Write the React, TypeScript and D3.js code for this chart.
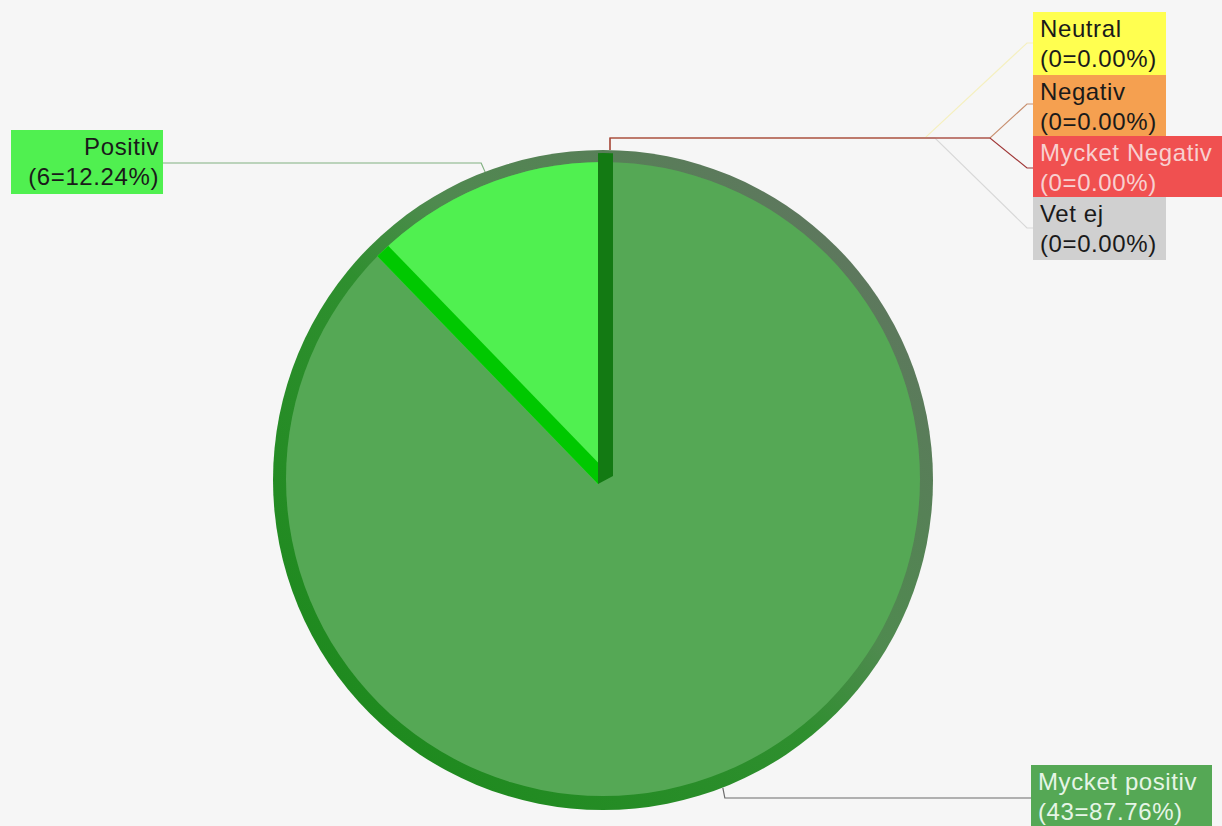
import React from "react";
import * as d3 from "d3";

const categories = ["Mycket positiv", "Positiv", "Neutral", "Negativ", "Mycket Negativ", "Vet ej"];
const values = [43, 6, 0, 0, 0, 0];
const sliceColors = ["#55a855", "#50f050", "#ffff50", "#f5a050", "#f05050", "#d0d0d0"];
const textColors = ["#e6f5e6", "#1a1a1a", "#1a1a1a", "#1a1a1a", "#f8d0d0", "#1a1a1a"];
const lineColors = ["#6a6a6a", "#80b080", "#f5f0c0", "#c89070", "#a03838", "#d8d8d8"];

const W = 1222;
const H = 826;

// label box layout (position only)
const boxes: Record<string, { x: number; y: number; w: number; h: number; align: "start" | "end"; elbow: [number, number] | null }> = {
  "Mycket positiv": { x: 1031, y: 765, w: 181, h: 64, align: "start", elbow: null },
  Positiv: { x: 11, y: 130, w: 152, h: 64, align: "end", elbow: null },
  Neutral: { x: 1033, y: 12, w: 133, h: 63, align: "start", elbow: [925, 43] },
  Negativ: { x: 1033, y: 75, w: 133, h: 61, align: "start", elbow: [990, 104] },
  "Mycket Negativ": { x: 1033, y: 136, w: 189, h: 61, align: "start", elbow: [990, 168] },
  "Vet ej": { x: 1033, y: 197, w: 133, h: 63, align: "start", elbow: [935, 228] },
};

export default function App() {
  const cx = 603;
  const cy = 480;
  const rOuter = 330;
  const rFace = 317;
  const V: [number, number] = [598, 484];

  const total = d3.sum(values);
  const pie = d3
    .pie<number>()
    .sort(null)
    .startAngle(0)
    .endAngle(Math.PI * 2)
    .value((d) => d);
  const arcsData = pie(values);

  const bigArc = d3.arc<any>().innerRadius(0).outerRadius(700);

  const dir = (a: number) => [Math.sin(a), -Math.cos(a)];

  const posData = arcsData[1];
  const posStart = posData.startAngle;
  const dS = dir(posStart);
  const perp = [Math.cos(posStart), Math.sin(posStart)];
  const sw = 15;
  const far = 600;
  const brightStrip = [
    [V[0], V[1]],
    [V[0] + dS[0] * far, V[1] + dS[1] * far],
    [V[0] + dS[0] * far + perp[0] * sw, V[1] + dS[1] * far + perp[1] * sw],
    [V[0] + perp[0] * sw + dS[0] * 4, V[1] + perp[1] * sw + dS[1] * 4],
  ];

  const d0 = dir(arcsData[0].startAngle);
  const perp0 = [Math.cos(arcsData[0].startAngle), Math.sin(arcsData[0].startAngle)];
  const darkStrip = [
    [V[0], V[1]],
    [V[0] + d0[0] * far, V[1] + d0[1] * far],
    [V[0] + d0[0] * far + perp0[0] * sw, V[1] + d0[1] * far + perp0[1] * sw],
    [V[0] + perp0[0] * sw + d0[0] * 8, V[1] + perp0[1] * sw + d0[1] * 8],
  ];

  const toPath = (pts: number[][]) => "M" + pts.map((p) => p.join(",")).join("L") + "Z";

  const labels = arcsData.map((a, i) => {
    const name = categories[i];
    const v = values[i];
    const pct = ((v / total) * 100).toFixed(2);
    const mid = (a.startAngle + a.endAngle) / 2;
    const dm = dir(mid);
    const px = cx + dm[0] * rOuter;
    const py = cy + dm[1] * rOuter;
    const b = boxes[name];
    let pts: number[][];
    if (name === "Positiv") {
      const ly = b.y + 33;
      pts = [
        [px + 6, py - 2],
        [px + 2, ly],
        [b.x + b.w, ly],
      ];
    } else if (name === "Mycket positiv") {
      const ly = b.y + 33;
      pts = [
        [px - 4, py + 2],
        [px - 2, ly],
        [b.x, ly],
      ];
    } else {
      const topY = 138;
      const e = b.elbow!;
      pts = [
        [px + 7, py],
        [px + 7, topY],
        [e[0], topY],
        [b.x - 6, e[1]],
        [b.x, e[1]],
      ];
    }
    return { name, v, pct, pts, b, i };
  });

  const drawOrder = [0, 1, 5, 2, 3, 4];

  return (
    <svg
      width={W}
      height={H}
      style={{ position: "absolute", left: 0, top: 0, display: "block" }}
      fontFamily="'Liberation Sans', Arial, sans-serif"
    >
      <defs>
        <linearGradient id="rimGrad" x1="0.15" y1="0.85" x2="0.85" y2="0.15">
          <stop offset="0" stopColor="#1f8a1f" />
          <stop offset="0.45" stopColor="#2f8f2f" />
          <stop offset="0.62" stopColor="#4f8a4f" />
          <stop offset="1" stopColor="#5d785d" />
        </linearGradient>
        <clipPath id="faceClip">
          <circle cx={cx} cy={cy - 1} r={rFace} />
        </clipPath>
        <clipPath id="outerClip">
          <circle cx={cx} cy={cy} r={rOuter - 3} />
        </clipPath>
      </defs>
      <rect x={0} y={0} width={W} height={H} fill="#f6f6f6" />

      {drawOrder.map((i) => {
        const l = labels[i];
        return (
          <path
            key={"l" + i}
            d={d3.line()(l.pts as [number, number][]) || ""}
            fill="none"
            stroke={lineColors[i]}
            strokeWidth={1.2}
          />
        );
      })}

      <circle cx={cx} cy={cy} r={rOuter} fill="url(#rimGrad)" />
      <circle cx={cx} cy={cy - 1} r={rFace} fill={sliceColors[0]} />
      <g clipPath="url(#faceClip)">
        <path d={bigArc(posData) || ""} transform={`translate(${V[0]},${V[1]})`} fill={sliceColors[1]} />
        <path d={toPath(brightStrip)} fill="#00c800" />
      </g>
      <g clipPath="url(#outerClip)">
        <path d={toPath(darkStrip)} fill="#137a13" />
      </g>

      {labels.map((l) => {
        const b = l.b;
        const tx = b.align === "end" ? b.x + b.w - 4 : b.x + 7;
        return (
          <g key={"b" + l.i}>
            <rect x={b.x} y={b.y} width={b.w} height={b.h} fill={sliceColors[l.i]} />
            <text x={tx} y={b.y + 25} fontSize={24} letterSpacing={0.6} fill={textColors[l.i]} textAnchor={b.align}>
              {l.name}
            </text>
            <text x={tx} y={b.y + 55} fontSize={24} letterSpacing={0.6} fill={textColors[l.i]} textAnchor={b.align}>
              {`(${l.v}=${l.pct}%)`}
            </text>
          </g>
        );
      })}
    </svg>
  );
}
